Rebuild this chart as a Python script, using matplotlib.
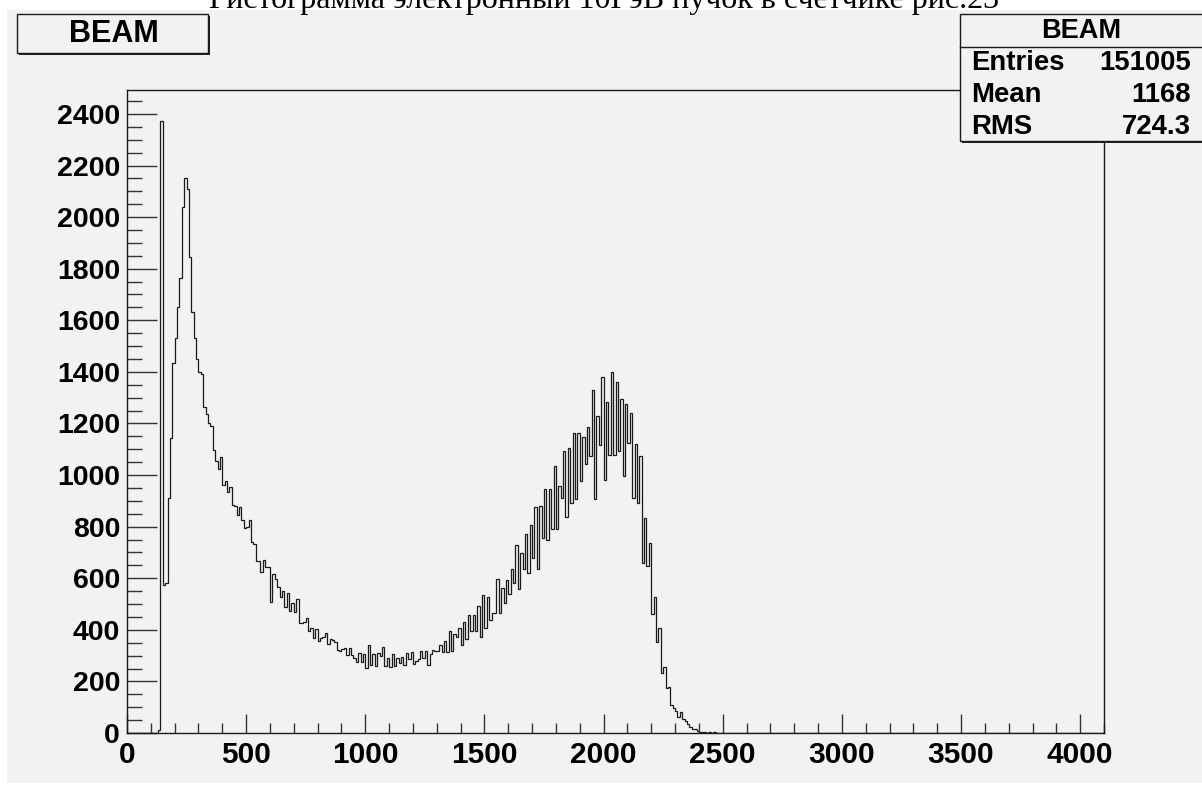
#!/usr/bin/env python3
import matplotlib
matplotlib.use("Agg")
import matplotlib.pyplot as plt
import numpy as np
from matplotlib.patches import Rectangle
from matplotlib.ticker import MultipleLocator

# histogram settings (ROOT TH1, 10-unit bins from 0 to 4100)
bin_width = 10
x_max = 4100
first_bin = 130  # lower edge of first non-empty bin

# bin contents, starting at x = 130
counts = [
    13, 2374, 575, 580, 912, 1143, 1433, 1530, 1653, 1764,          # 130-220
    2038, 2150, 2107, 1844, 1634, 1530, 1450, 1400, 1390, 1265,     # 230-320
    1235, 1203, 1190, 1098, 1055, 1023, 1071, 961, 978, 935,        # 330-420
    955, 884, 880, 844, 877, 825, 796, 800, 825, 740,               # 430-520
    732, 666, 666, 623, 671, 645, 645, 507, 616, 597,               # 530-620
    565, 526, 550, 487, 541, 474, 505, 468, 518, 425,               # 630-720
    425, 429, 444, 397, 406, 367, 402, 358, 367, 373,               # 730-820
    389, 345, 363, 360, 354, 322, 317, 327, 329, 302,               # 830-920
    328, 301, 289, 274, 309, 274, 306, 251, 341, 264,               # 930-1020
    305, 261, 311, 300, 332, 260, 289, 257, 305, 261,               # 1030-1120
    289, 270, 296, 264, 309, 286, 313, 267, 278, 287,               # 1130-1220
    319, 289, 319, 264, 305, 323, 319, 319, 340, 315,               # 1230-1320
    355, 315, 394, 319, 382, 373, 408, 341, 429, 364,               # 1330-1420
    457, 395, 457, 395, 492, 371, 536, 408, 526, 438,               # 1430-1520
    466, 464, 596, 464, 564, 505, 595, 537, 636, 581,               # 1530-1620
    727, 557, 699, 636, 770, 619, 807, 677, 877, 636,               # 1630-1720
    880, 755, 944, 748, 944, 789, 1036, 789, 958, 912,              # 1730-1820
    1092, 836, 1106, 890, 1164, 907, 1164, 978, 1146, 1041,         # 1830-1920
    1187, 1074, 1329, 906, 1230, 1115, 1379, 981, 1283, 1077,       # 1930-2020
    1398, 1077, 1359, 1093, 1295, 996, 1274, 1123, 1241, 912,       # 2030-2120
    1121, 893, 1074, 658, 832, 649, 735, 460, 526, 354,             # 2130-2220
    408, 231, 257, 173, 180, 109, 96, 86, 61, 82,                   # 2230-2320
    55, 45, 35, 25, 15, 14, 8, 4, 2, 3,                             # 2330-2420
    1, 2, 1, 2,                                                     # 2430-2460
]

hist_name = "BEAM"
title = "Гистограмма электронный 10ГэВ пучок в счетчике рис.23"
stat_labels = ["Entries", "Mean", "RMS"]
stat_values = ["151005", "1168", "724.3"]

W, H = 1202, 785
PAD = "#f2f2f2"
LINE = "#1a1a1a"


def fx(px):
    return px / W


def fy(py):
    return 1 - py / H


def box(fig, x0, y0, x1, y1, shadow=2):
    # ROOT-style box with a dark drop shadow
    fig.patches.append(Rectangle((fx(x0 + shadow), fy(y1 + shadow)), fx(x1 - x0), (y1 - y0) / H,
                                 transform=fig.transFigure, facecolor="#222222",
                                 edgecolor="none", zorder=2))
    fig.patches.append(Rectangle((fx(x0), fy(y1)), fx(x1 - x0), (y1 - y0) / H,
                                 transform=fig.transFigure, facecolor=PAD, edgecolor=LINE,
                                 lw=1.0, zorder=2))


def main():
    plt.rcParams["font.family"] = ["Liberation Sans", "DejaVu Sans"]
    fig = plt.figure(figsize=(W / 100, H / 100), dpi=100, facecolor="white")

    # gray canvas, kept behind the axes
    fig.patches.append(Rectangle((fx(7), fy(783)), fx(W - 7), (783 - 10) / H,
                                 transform=fig.transFigure, facecolor=PAD,
                                 edgecolor="none", zorder=-10))

    ax = fig.add_axes([fx(127), fy(733), fx(1104 - 127), (733 - 90) / H])
    ax.set_facecolor(PAD)

    values = np.zeros(x_max // bin_width)
    i0 = first_bin // bin_width
    values[i0:i0 + len(counts)] = counts
    edges = np.arange(0, x_max + bin_width, bin_width)
    ax.stairs(values, edges, color=LINE, lw=0.9, baseline=0)

    ax.set_xlim(0, x_max)
    ax.set_ylim(0, 1.05 * max(counts))

    ax.xaxis.set_major_locator(MultipleLocator(500))
    ax.xaxis.set_minor_locator(MultipleLocator(100))
    ax.yaxis.set_major_locator(MultipleLocator(200))
    ax.yaxis.set_minor_locator(MultipleLocator(50))
    ax.tick_params(axis="both", which="both", direction="in", top=False, right=False,
                   color="#333333", width=1.0)
    ax.tick_params(axis="x", which="major", length=13.7, pad=6, labelsize=21.5)
    ax.tick_params(axis="x", which="minor", length=7.2)
    ax.tick_params(axis="y", which="major", length=21.6, pad=5, labelsize=20.5)
    ax.tick_params(axis="y", which="minor", length=10.8)
    for lab in ax.get_xticklabels() + ax.get_yticklabels():
        lab.set_fontweight("bold")
    for sp in ax.spines.values():
        sp.set_color(LINE)
        sp.set_linewidth(1.0)

    # title cut off at the top of the picture, as in the source
    fig.text(fx(604), fy(8), title, ha="center", va="baseline",
             family="Liberation Serif", fontsize=23)

    # histogram name box
    box(fig, 17, 14, 208, 53)
    fig.text(fx(114), fy(34), hist_name, ha="center", va="center",
             fontsize=22, fontweight="bold", zorder=3)

    # stats box
    box(fig, 960, 14, 1206, 141)
    fig.lines.append(plt.Line2D([fx(960), fx(1202)], [fy(47), fy(47)],
                                transform=fig.transFigure, color=LINE, lw=1.0, zorder=3))
    fig.text(fx(1081), fy(31), hist_name, ha="center", va="center",
             fontsize=19.5, fontweight="bold", zorder=3)
    for k, (lab, val) in enumerate(zip(stat_labels, stat_values)):
        yc = fy(63 + 32 * k)
        fig.text(fx(971), yc, lab, ha="left", va="center", fontsize=19.8,
                 fontweight="bold", zorder=3)
        fig.text(fx(1191), yc, val, ha="right", va="center", fontsize=19.8,
                 fontweight="bold", zorder=3)

    fig.savefig("out.png", dpi=100, facecolor="white")


if __name__ == "__main__":
    main()
